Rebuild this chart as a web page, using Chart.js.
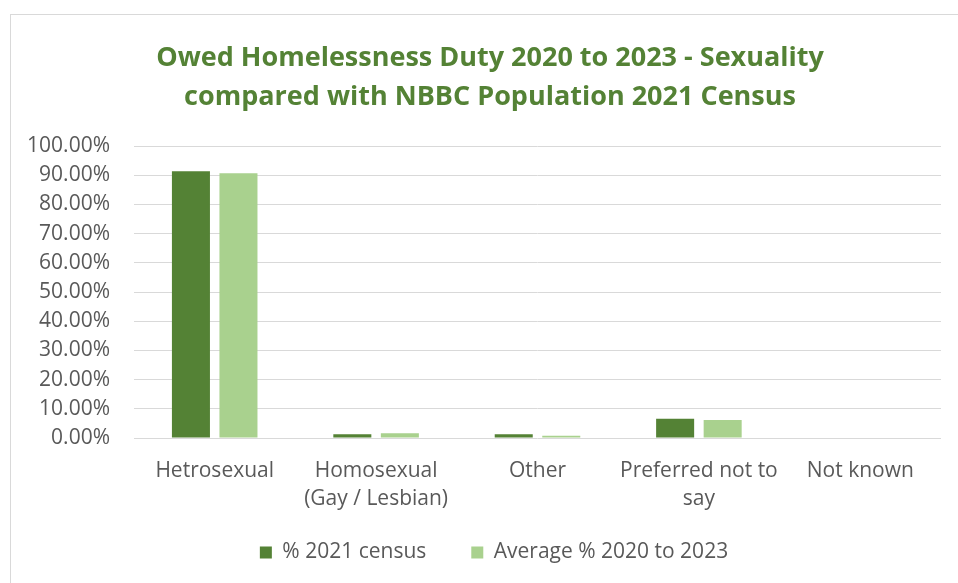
<!DOCTYPE html>
<html>
<head>
<meta charset="utf-8">
<script src="https://cdn.jsdelivr.net/npm/chart.js@4.4.1/dist/chart.umd.min.js"></script>
<style>
  html, body { margin: 0; padding: 0; background: #fff; overflow: hidden; }
  #frame { position: absolute; left: 10px; top: 14px; width: 1200px; height: 900px; border: 1px solid #d9d9d9; }
  #chart-area { position: absolute; left: 0; top: 0; }
</style>
</head>
<body>
<div id="frame"></div>
<canvas id="chart-area" width="958" height="583"></canvas>
<script>
var categories = [
  'Hetrosexual',
  ['Homosexual', '(Gay / Lesbian)'],
  'Other',
  ['Preferred not to', 'say'],
  'Not known'
];
var census2021 = [91.35, 1.25, 1.25, 6.6, 0];
var average2020to2023 = [90.7, 1.6, 0.8, 6.15, 0];
var seriesNames = ['% 2021 census', 'Average % 2020 to 2023'];
var titleLines = ['Owed Homelessness Duty 2020 to 2023 - Sexuality', 'compared with NBBC Population 2021 Census'];

var darkGreen = '#548235';
var lightGreen = '#a9d18e';
var textGrey = '#595959';
var gridGrey = '#d9d9d9';
var fontName = "'Open Sans', sans-serif";

// The frame runs on past the right edge, so title and legend sit a bit right
// of the plot's centre. Legend padding also sets the wide gap between the two
// entries, so the legend gets pulled back up once the layout is done.
var boxNudge = {
  id: 'boxNudge',
  afterLayout: function(chart) {
    var t = chart.titleBlock;
    if (t) { t.left += 19.5; t.right += 19.5; }
    var lg = chart.legend;
    if (lg) {
      lg.left += 23.5; lg.right += 23.5;
      lg.top -= 16; lg.bottom -= 16;
    }
  }
};

var config = {
  type: 'bar',
  data: {
    labels: categories,
    datasets: [{
      label: seriesNames[0],
      data: census2021,
      backgroundColor: darkGreen,
      categoryPercentage: 0.589,
      barPercentage: 0.8
    }, {
      label: seriesNames[1],
      data: average2020to2023,
      backgroundColor: lightGreen,
      categoryPercentage: 0.589,
      barPercentage: 0.8
    }]
  },
  options: {
    responsive: false,
    animation: false,
    devicePixelRatio: 1,
    layout: { padding: { top: 20, left: 0, right: 17, bottom: 0 } },
    plugins: {
      title: {
        display: true,
        text: titleLines,
        color: darkGreen,
        font: { family: fontName, size: 27, weight: 'bold', lineHeight: '39px' },
        padding: { top: 18.5, bottom: 29.5 }
      },
      legend: {
        position: 'bottom',
        maxHeight: 70,
        labels: {
          color: textGrey,
          font: { family: fontName, size: 21 },
          boxWidth: 12,
          boxHeight: 12,
          padding: 45
        }
      },
      tooltip: { enabled: false }
    },
    scales: {
      x: {
        grid: { display: false, drawTicks: false },
        border: { display: false },
        ticks: {
          color: textGrey,
          font: { family: fontName, size: 21, lineHeight: '28px' },
          padding: 19,
          maxRotation: 0,
          autoSkip: false
        },
        afterFit: function(scale) { scale.height = 75; }
      },
      y: {
        min: 0,
        max: 100,
        border: { display: false },
        grid: { color: gridGrey, lineWidth: 1, drawTicks: false },
        ticks: {
          stepSize: 10,
          autoSkip: false,
          color: textGrey,
          font: { family: fontName, size: 21 },
          padding: 24,
          callback: function(v) { return v.toFixed(2) + '%'; }
        },
        afterFit: function(scale) { scale.width = 134; }
      }
    }
  },
  plugins: [boxNudge]
};

var ctx = document.getElementById('chart-area').getContext('2d');
window.myBar = new Chart(ctx, config);
</script>
</body>
</html>
